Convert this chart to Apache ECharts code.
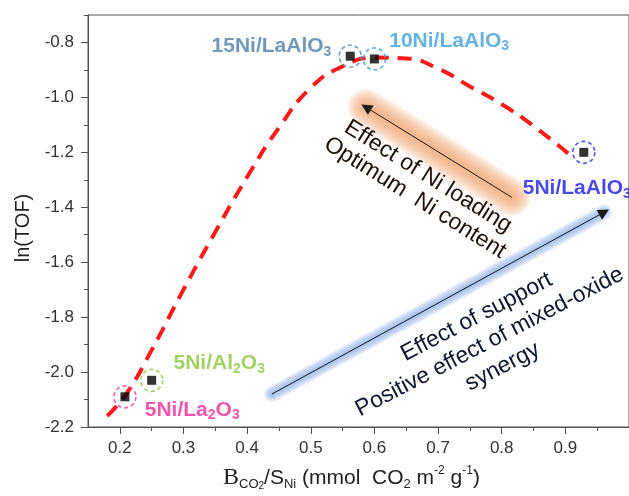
<!DOCTYPE html>
<html>
<head>
<meta charset="utf-8">
<script src="https://cdn.jsdelivr.net/npm/echarts@6/dist/echarts.min.js"></script>
<style>
  html, body { margin: 0; padding: 0; background: #fff; }
  #chart { width: 629px; height: 496px; }
</style>
</head>
<body>
<div id="chart"></div>
<script>
// Ni catalysts: surface CO2 basicity per exposed Ni vs. ln(TOF)
const sampleNames = ['5Ni/La2O3', '5Ni/Al2O3', '15Ni/LaAlO3', '10Ni/LaAlO3', '5Ni/LaAlO3'];
const basicity = [0.208, 0.250, 0.562, 0.600, 0.929];
const lnTOF = [-2.09, -2.03, -0.85, -0.86, -1.20];

// Guide-to-the-eye trend through the samples
const trendX = [0.18, 0.21, 0.25, 0.30, 0.35, 0.40, 0.45, 0.50, 0.55, 0.60, 0.65, 0.70, 0.75, 0.80, 0.85, 0.91];
const trendY = [-2.16, -2.08, -1.92, -1.70, -1.49, -1.29, -1.11, -0.965, -0.887, -0.855, -0.858, -0.895, -0.96, -1.025, -1.104, -1.215];

// Axis ticks
const xTicks = [0.2, 0.3, 0.4, 0.5, 0.6, 0.7, 0.8, 0.9];
const xMinorTicks = [0.25, 0.35, 0.45, 0.55, 0.65, 0.75, 0.85, 0.95];
const yTicks = [-2.2, -2.0, -1.8, -1.6, -1.4, -1.2, -1.0, -0.8];
const yMinorTicks = [-2.1, -1.9, -1.7, -1.5, -1.3, -1.1, -0.9, -0.7];

// Per-sample look: ring/label colour and where the label sits
const sampleStyle = [
  { ring: '#ee3fa6', text: '#ef2a9a', pos: 'right',  offset: [3, 13] },
  { ring: '#8fc641', text: '#8bc53f', pos: 'right',  offset: [5, -17] },
  { ring: '#5b8bb3', text: '#4c7ea9', pos: 'left',   offset: [-2, -10] },
  { ring: '#43a1da', text: '#3c9fda', pos: 'right',  offset: [-2, -18] },
  { ring: '#2a32e0', text: '#1c1ce2', pos: 'bottom', offset: [-7, 7] }
];

const SANS = 'Liberation Sans, Arial, sans-serif';
const SERIF = 'Liberation Serif, Times New Roman, serif';

// Chemical formula -> rich text with subscripted stoichiometry
function formula(name) {
  return name.replace(/([A-Za-z])(\d)/g, '$1{s|$2}');
}

const points = basicity.map((x, i) => [x, lnTOF[i]]);
const trend = trendX.map((x, i) => [x, trendY[i]]);

const ringData = points.map((p, i) => ({
  value: p,
  name: sampleNames[i],
  itemStyle: { borderColor: sampleStyle[i].ring },
  label: {
    position: sampleStyle[i].pos,
    offset: sampleStyle[i].offset,
    color: sampleStyle[i].text,
    rich: { s: { fontSize: 14, fontWeight: 'bold', color: sampleStyle[i].text, verticalAlign: 'bottom', lineHeight: 14, fontFamily: SANS } }
  }
}));

// Annotation arrows (data coordinates, tail -> head)
const niArrow = [[0.816, -1.364], [0.587, -1.036]];
const supportArrow = [[0.439, -2.080], [0.961, -1.418]];

// Soft halo built from stacked translucent strokes of growing width
function glow(coords, maxWidth, steps, rgb, alpha) {
  const out = [];
  for (let k = steps; k >= 1; k--) {
    out.push({
      coords: coords,
      lineStyle: { width: maxWidth * k / steps, color: 'rgba(' + rgb + ',' + alpha + ')', opacity: 1, cap: 'round' }
    });
  }
  return out;
}

const chart = echarts.init(document.getElementById('chart'), null, { renderer: 'canvas' });

const option = {
  animation: false,
  backgroundColor: '#fff',
  grid: { left: 88, top: 15, bottom: 68, right: -13, show: true, borderColor: '#505050', borderWidth: 1 },
  xAxis: [
    {
      type: 'value', min: 0.15, max: 1.0, position: 'bottom',
      axisLine: { show: true, lineStyle: { color: '#505050', width: 1 } },
      axisTick: { show: true, customValues: xTicks, length: 7, inside: false, lineStyle: { color: '#505050' } },
      axisLabel: { customValues: xTicks, formatter: v => v.toFixed(1), fontSize: 17, color: '#333', margin: 13, fontFamily: SANS },
      splitLine: { show: false },
      name: '{b|B}{bs|CO}{bss|2}{t|/S}{ts|Ni}{t| (mmol  CO}{ts|2}{t| m}{tp|-2}{t| g}{tp|-1}{t|)}',
      nameLocation: 'middle', nameGap: 38,
      nameTextStyle: {
        padding: [0, 14, 0, 0],
        rich: {
          b: { fontFamily: SERIF, fontSize: 24, color: '#222', lineHeight: 26 },
          bs: { fontFamily: SANS, fontSize: 13, color: '#222', verticalAlign: 'bottom', lineHeight: 13 },
          bss: { fontFamily: SANS, fontSize: 10, color: '#222', verticalAlign: 'bottom', lineHeight: 5 },
          t: { fontFamily: SANS, fontSize: 21, color: '#222', lineHeight: 26 },
          ts: { fontFamily: SANS, fontSize: 13, color: '#222', verticalAlign: 'bottom', lineHeight: 13 },
          tp: { fontFamily: SANS, fontSize: 12, color: '#222', verticalAlign: 'top', lineHeight: 12 }
        }
      }
    },
    {
      type: 'value', min: 0.15, max: 1.0, position: 'bottom',
      axisLine: { show: false },
      axisTick: { show: true, customValues: xMinorTicks, length: 4, lineStyle: { color: '#505050' } },
      axisLabel: { show: false },
      splitLine: { show: false }
    }
  ],
  yAxis: [
    {
      type: 'value', min: -2.2, max: -0.7, position: 'left',
      axisLine: { show: true, lineStyle: { color: '#505050', width: 1 } },
      axisTick: { show: true, customValues: yTicks, length: 7, lineStyle: { color: '#505050' } },
      axisLabel: { customValues: yTicks, formatter: v => v.toFixed(1), fontSize: 17, color: '#333', margin: 14, fontFamily: SANS },
      splitLine: { show: false },
      name: 'ln(TOF)', nameLocation: 'middle', nameGap: 55, nameRotate: 90,
      nameTextStyle: { fontSize: 20, color: '#222', fontFamily: SANS, padding: [0, 14, 0, 0] }
    },
    {
      type: 'value', min: -2.2, max: -0.7, position: 'left',
      axisLine: { show: false },
      axisTick: { show: true, customValues: yMinorTicks, length: 4, lineStyle: { color: '#505050' } },
      axisLabel: { show: false },
      splitLine: { show: false }
    }
  ],
  series: [
    {
      // soft halos behind the two arrows
      type: 'lines', coordinateSystem: 'cartesian2d', xAxisIndex: 0, yAxisIndex: 0,
      silent: true, symbol: ['none', 'none'], z: 1,
      data: glow(niArrow, 38, 16, '246,168,112', 0.09)
        .concat(glow(supportArrow, 16, 8, '140,175,238', 0.15))
    },
    {
      type: 'lines', coordinateSystem: 'cartesian2d', xAxisIndex: 0, yAxisIndex: 0,
      silent: true, symbol: ['none', 'triangle'], symbolSize: [0, 11], z: 2,
      lineStyle: { color: '#1a1a1a', width: 1, opacity: 1 },
      data: [{ coords: niArrow }, { coords: supportArrow }]
    },
    {
      type: 'line', data: trend, smooth: 0.5, showSymbol: false, silent: true, z: 3,
      lineStyle: { color: '#ff1a1a', width: 4, type: [14, 9] }
    },
    {
      type: 'scatter', data: ringData, symbol: 'circle', symbolSize: 22, z: 4, silent: true,
      itemStyle: { color: 'rgba(0,0,0,0)', borderWidth: 1.7, borderType: [4, 3] },
      label: {
        show: true, distance: 5, fontSize: 21, fontWeight: 'bold', fontFamily: SANS, lineHeight: 25,
        formatter: p => formula(p.name)
      }
    },
    {
      type: 'scatter', data: points, symbol: 'rect', symbolSize: 9, z: 5, silent: true,
      itemStyle: { color: '#000' }
    }
  ]
};

chart.setOption(option);

// Rotated explanatory notes, anchored in data space
function px(pt) { return chart.convertToPixel({ xAxisIndex: 0, yAxisIndex: 0 }, pt); }
const niNote = px([0.674, -1.327]);
const supportNote = px([0.781, -1.890]);

chart.setOption({
  graphic: [
    {
      type: 'text', x: niNote[0], y: niNote[1], rotation: -32 * Math.PI / 180, z: 10,
      style: {
        text: 'Effect of Ni loading\nOptimum  Ni content',
        font: '23px ' + SANS, fill: '#1e1208', align: 'center', verticalAlign: 'middle',
        lineHeight: 25, shadowBlur: 3, shadowColor: 'rgba(200,110,40,0.7)'
      }
    },
    {
      type: 'text', x: supportNote[0], y: supportNote[1], rotation: 27.5 * Math.PI / 180, z: 10,
      style: {
        text: 'Effect of support\nPositive effect of mixed-oxide\nsynergy',
        font: '23px ' + SANS, fill: '#0f1630', align: 'center', verticalAlign: 'middle',
        lineHeight: 28, shadowBlur: 3, shadowColor: 'rgba(90,130,220,0.7)'
      }
    }
  ]
});
</script>
</body>
</html>
